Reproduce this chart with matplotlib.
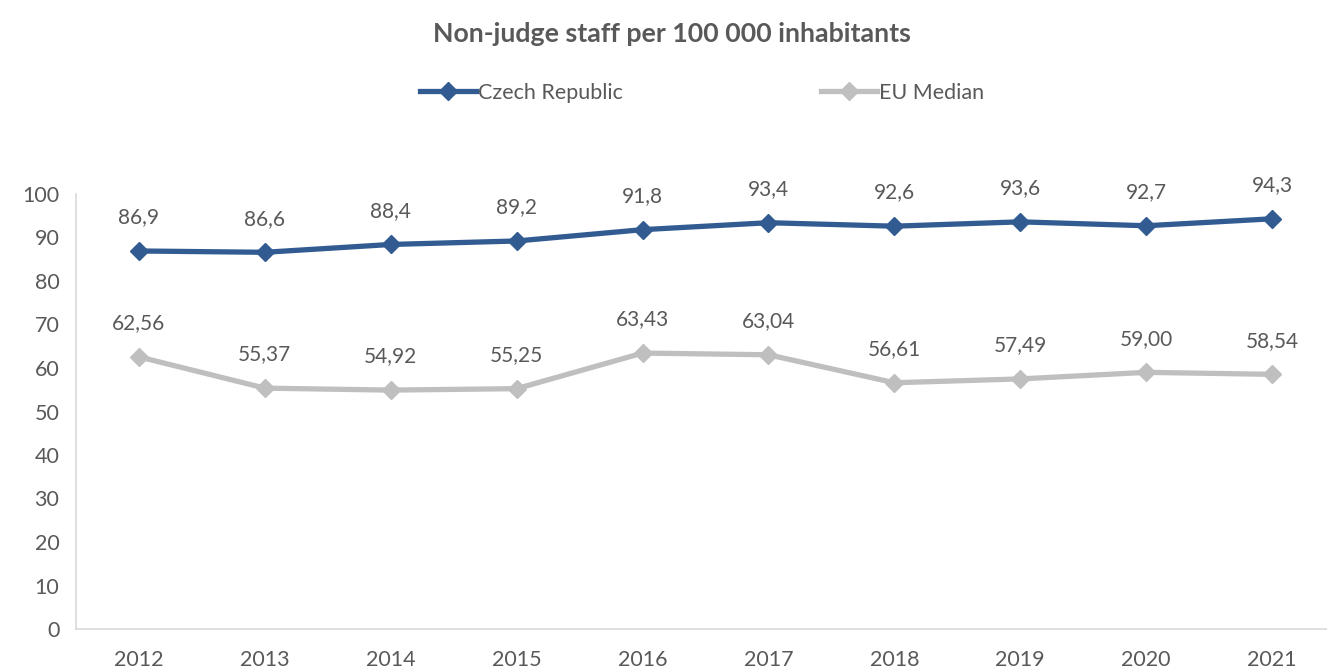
import matplotlib
matplotlib.use("Agg")
import matplotlib.pyplot as plt

years = ["2012", "2013", "2014", "2015", "2016", "2017", "2018", "2019", "2020", "2021"]
czech = [86.9, 86.6, 88.4, 89.2, 91.8, 93.4, 92.6, 93.6, 92.7, 94.3]
eu_median = [62.56, 55.37, 54.92, 55.25, 63.43, 63.04, 56.61, 57.49, 59.00, 58.54]
yticks = [0, 10, 20, 30, 40, 50, 60, 70, 80, 90, 100]

plt.rcParams['font.family'] = ['Lato', 'DejaVu Sans']
txt = '#595959'
blue = '#325C91'
gray = '#BFBFBF'

fig = plt.figure(figsize=(13.27, 6.68), dpi=100)
ax = fig.add_axes([76/1327, 39/668, 1259/1327, 435/668])
x = list(range(len(years)))

l1, = ax.plot(x, czech, color=blue, lw=3.8, marker='D', ms=9, label='Czech Republic', zorder=3)
l2, = ax.plot(x, eu_median, color=gray, lw=3.8, marker='D', ms=9, label='EU Median', zorder=3)

for xi, v in zip(x, czech):
    ax.annotate(f"{v:.1f}".replace('.', ','), (xi, v), xytext=(0, 17), textcoords='offset points',
                ha='center', va='bottom', fontsize=15, color=txt)
for xi, v in zip(x, eu_median):
    ax.annotate(f"{v:.2f}".replace('.', ','), (xi, v), xytext=(0, 17), textcoords='offset points',
                ha='center', va='bottom', fontsize=15, color=txt)

ax.set_xlim(-0.5, len(years) - 0.5)
ax.set_ylim(0, 100)
ax.set_yticks(yticks)
ax.set_xticks(x)
ax.set_xticklabels(years)
ax.tick_params(axis='both', length=0, labelsize=15.5, colors=txt)
ax.tick_params(axis='x', pad=15)
ax.tick_params(axis='y', pad=12)
for s in ['top', 'right']:
    ax.spines[s].set_visible(False)
for s in ['left', 'bottom']:
    ax.spines[s].set_color('#D9D9D9')
    ax.spines[s].set_linewidth(1.2)

fig.text(0.506, 0.949, "Non-judge staff per 100 000 inhabitants", ha='center', va='center',
         fontsize=19.3, fontweight='bold', color=txt)
fig.legend(handles=[l1, l2], loc='center', bbox_to_anchor=(0.529, 0.861), ncol=2, frameon=False,
           fontsize=15.5, labelcolor=txt, columnspacing=9.2, handlelength=2.6, handletextpad=0.1)

fig.savefig("out.png", dpi=100)
